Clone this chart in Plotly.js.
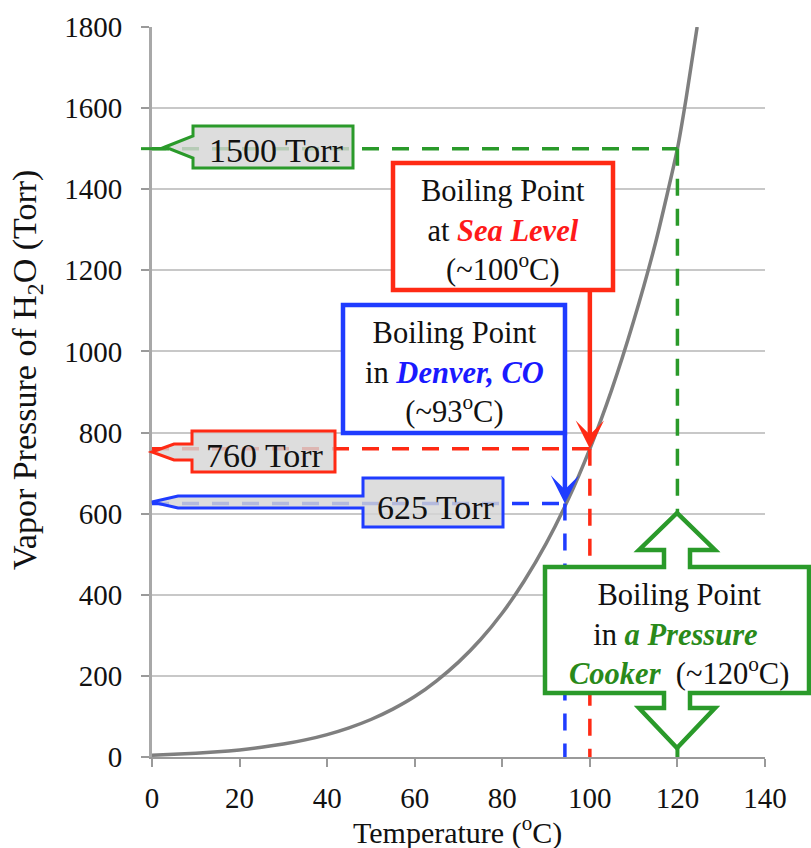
<!DOCTYPE html>
<html>
<head>
<meta charset="utf-8">
<script src="https://cdn.plot.ly/plotly-3.0.1.min.js"></script>
<style>html,body{margin:0;padding:0;background:#fff;}#chart{width:811px;height:848px;}</style>
</head>
<body>
<div id="chart"></div>
<script>
// ---- data ----
var temperatureC = [0, 5, 10, 15, 20, 25, 30, 35, 40, 45, 50, 55, 60, 65, 70, 75, 80, 85, 90, 95, 100, 105, 110, 115, 120, 122, 124.5];
var vaporTorr   = [4.6, 6.5, 9.2, 12.8, 17.5, 23.8, 31.8, 42.2, 55.3, 71.9, 92.5, 118, 149, 188, 234, 289, 355, 434, 526, 634, 760, 906, 1075, 1268, 1500, 1625, 1800];

var boilNames = ['Pressure Cooker', 'Sea Level', 'Denver, CO'];
var boilT = [120, 100, 94.3];
var boilP = [1500, 760, 625];
var pressureLabels = ['1500 Torr', '760 Torr', '625 Torr'];

var xTicks = [0, 20, 40, 60, 80, 100, 120, 140];
var yTicks = [0, 200, 400, 600, 800, 1000, 1200, 1400, 1600, 1800];

// ---- colours ----
var GREEN = '#2a9a2a', RED = '#ff2a14', BLUE = '#1f3cff';
var FONT = 'Liberation Serif, Times New Roman, serif';

// layout helpers: pixel -> paper (plot area 152..765 x 27..757)
function PX(x){ return (x - 152) / 613; }
function PY(y){ return (757 - y) / 730; }
function DX(t){ return t / 140; }
function DY(p){ return p / 1800; }
function pathPx(pts){
  return 'M' + pts.map(function(p){ return PX(p[0]) + ',' + PY(p[1]); }).join('L') + 'Z';
}

var shapes = [];
var dash = '17px,13px';
// dashed guide lines (drawn from the boiling-point values)
shapes.push({type:'line', xref:'paper', yref:'paper', x0:DX(0), x1:DX(boilT[0]), y0:DY(boilP[0]), y1:DY(boilP[0]), line:{color:GREEN, width:3.5, dash:dash}});
shapes.push({type:'line', xref:'paper', yref:'paper', x0:DX(boilT[0]), x1:DX(boilT[0]), y0:DY(boilP[0]), y1:PY(513), line:{color:GREEN, width:3.5, dash:dash}});
shapes.push({type:'line', xref:'paper', yref:'paper', x0:DX(0), x1:DX(boilT[1]), y0:DY(boilP[1]), y1:DY(boilP[1]), line:{color:RED, width:3.5, dash:dash}});
shapes.push({type:'line', xref:'paper', yref:'paper', x0:DX(boilT[1]), x1:DX(boilT[1]), y0:DY(boilP[1]), y1:0, line:{color:RED, width:3.5, dash:dash}});
shapes.push({type:'line', xref:'paper', yref:'paper', x0:DX(0), x1:DX(boilT[2]), y0:DY(boilP[2]), y1:DY(boilP[2]), line:{color:BLUE, width:3.5, dash:dash}});
shapes.push({type:'line', xref:'paper', yref:'paper', x0:DX(boilT[2]), x1:DX(boilT[2]), y0:DY(boilP[2]), y1:0, line:{color:BLUE, width:3.5, dash:dash}});

// pressure callouts
var calloutFill = 'rgba(214,214,214,0.82)';
shapes.push({type:'line', xref:'paper', yref:'paper', x0:PX(141), x1:PX(166), y0:DY(boilP[0]), y1:DY(boilP[0]), line:{color:GREEN, width:3}});
shapes.push({type:'path', xref:'paper', yref:'paper', fillcolor:calloutFill, line:{color:GREEN, width:3},
  path: pathPx([[165,147],[193,136],[193,126],[353,126],[353,168],[193,168],[193,158]])});
shapes.push({type:'path', xref:'paper', yref:'paper', fillcolor:calloutFill, line:{color:RED, width:3},
  path: pathPx([[152,452],[174,444],[192,444],[192,431],[335,431],[335,472],[192,472],[192,460],[174,460]])});
shapes.push({type:'path', xref:'paper', yref:'paper', fillcolor:calloutFill, line:{color:BLUE, width:3},
  path: pathPx([[152,502],[178,496],[363,496],[363,478],[503,478],[503,527],[363,527],[363,508],[178,508]])});

// boiling point boxes
shapes.push({type:'rect', xref:'paper', yref:'paper', x0:PX(393), x1:PX(613), y0:PY(163), y1:PY(290), fillcolor:'#ffffff', line:{color:RED, width:4.5}});
shapes.push({type:'rect', xref:'paper', yref:'paper', x0:PX(343), x1:PX(565), y0:PY(305), y1:PY(433), fillcolor:'#ffffff', line:{color:BLUE, width:4.5}});
// pressure cooker double arrow
var cx = 677;
shapes.push({type:'line', xref:'paper', yref:'paper', x0:DX(boilT[0]), x1:DX(boilT[0]), y0:PY(745), y1:0, line:{color:GREEN, width:4}});
shapes.push({type:'path', xref:'paper', yref:'paper', fillcolor:'#ffffff', line:{color:GREEN, width:4.5},
  path: pathPx([[cx,513],[cx-38,550],[cx-13,550],[cx-13,567],[545,567],[545,693],[cx-13,693],[cx-13,708],[cx-38,708],[cx,748],[cx+38,708],[cx+13,708],[cx+13,693],[809,693],[809,567],[cx+13,567],[cx+13,550],[cx+38,550]])});

var annotations = [];
function note(x, y, text, font, extra){
  var a = {xref:'paper', yref:'paper', x:PX(x), y:PY(y), xanchor:'center', yanchor:'middle', showarrow:false, align:'center', font:font, text:text};
  if(extra){ for(var k in extra){ a[k] = extra[k]; } }
  annotations.push(a);
}
var boxFont = {family:FONT, size:30.5, color:'#111'};
note(503, 230, 'Boiling Point<br>at <span style="color:#ff1a1a"><b><i>Sea Level</i></b></span><br>(~100<sup>o</sup>C)', boxFont);
note(454, 372, 'Boiling Point<br>in <span style="color:#1a1aff"><b><i>Denver, CO</i></b></span><br>(~93<sup>o</sup>C)', boxFont);
note(679, 634, 'Boiling Point<br>in <span style="color:#2a8a1a"><b><i>a Pressure</i></b></span> <br><span style="color:#2a8a1a"><b><i>Cooker</i></b></span>  (~120<sup>o</sup>C)', boxFont);

// callout labels
var cFont = {family:FONT, size:34, color:'#111'};
note(276, 150, pressureLabels[0], cFont);
note(265, 455, pressureLabels[1], cFont);
note(436, 507, pressureLabels[2], cFont);

// axis titles
note(27, 370, 'Vapor Pressure of H<sub>2</sub>O (Torr)', {family:FONT, size:34, color:'#111'}, {textangle:-90});
note(457, 830, 'Temperature (<sup>o</sup>C)', {family:FONT, size:30, color:'#111'});

// arrows from boxes to the curve
annotations.push({xref:'x', yref:'y', axref:'x', ayref:'y', x:boilT[1], y:boilP[1], ax:boilT[1], ay:1151, text:'', showarrow:true,
  arrowhead:3, arrowsize:1.05, arrowwidth:4.5, arrowcolor:RED, standoff:0});
annotations.push({xref:'x', yref:'y', axref:'x', ayref:'y', x:boilT[2], y:boilP[2], ax:boilT[2], ay:799, text:'', showarrow:true,
  arrowhead:3, arrowsize:1.05, arrowwidth:4.5, arrowcolor:BLUE, standoff:0});

var trace = {
  x: temperatureC, y: vaporTorr, type:'scatter', mode:'lines',
  line:{color:'#7f7f7f', width:3.5, shape:'spline', smoothing:0.6},
  hoverinfo:'skip', cliponaxis:true
};

var layout = {
  width:811, height:848,
  margin:{l:152, r:46, t:27, b:91},
  paper_bgcolor:'#ffffff', plot_bgcolor:'#ffffff',
  showlegend:false,
  xaxis:{range:[0,140], tickvals:xTicks, ticktext:xTicks.map(String), ticks:'outside', ticklen:8, tickwidth:2, tickcolor:'#9a9a9a',
    showline:true, linecolor:'#9a9a9a', linewidth:2, showgrid:false, zeroline:false,
    tickfont:{family:FONT, size:29, color:'#111'}, ticklabelstandoff:6, fixedrange:true},
  yaxis:{range:[0,1800], tickvals:yTicks, ticktext:yTicks.map(String), ticks:'outside', ticklen:8, tickwidth:2, tickcolor:'#9a9a9a',
    showline:true, linecolor:'#a8a8a8', linewidth:3, showgrid:true, gridcolor:'#c8c8c8', gridwidth:2, zeroline:false,
    tickfont:{family:FONT, size:29, color:'#111'}, ticklabelstandoff:13, fixedrange:true},
  shapes:shapes,
  annotations:annotations
};

Plotly.newPlot('chart', [trace], layout, {staticPlot:true, displayModeBar:false});
</script>
</body>
</html>
